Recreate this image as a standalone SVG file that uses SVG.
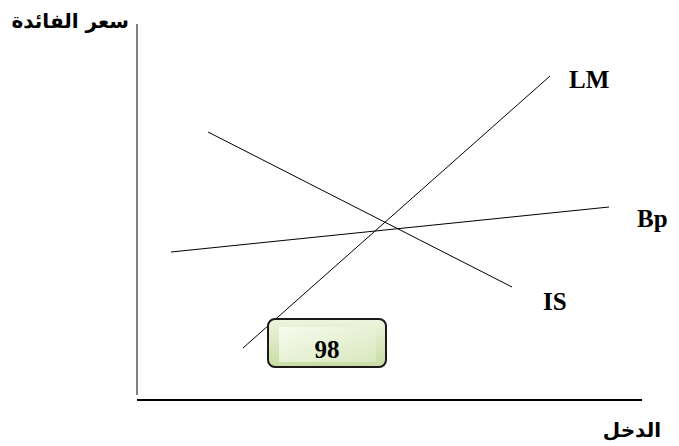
<svg xmlns="http://www.w3.org/2000/svg" width="679" height="446" viewBox="0 0 679 446">
<style>
.ln{stroke:#000;stroke-width:1;fill:none}
.lbl{font-family:"Liberation Serif",serif;font-weight:bold;font-size:25px;fill:#000}
.ar{font-family:"DejaVu Sans","Noto Sans",sans-serif;font-weight:bold;font-size:20px;fill:#000}
</style>
<defs>
<linearGradient id="g1" x1="0" y1="0" x2="0" y2="1">
<stop offset="0" stop-color="#eef5df"/>
<stop offset="1" stop-color="#c8dca3"/>
</linearGradient>
<linearGradient id="g2" x1="0" y1="0" x2="1" y2="1">
<stop offset="0" stop-color="#f7fbef"/>
<stop offset="1" stop-color="#d9e8bd"/>
</linearGradient>
</defs>
<g id="axes">
<line class="ln" x1="137" y1="24" x2="137" y2="395"/>
<line x1="137" y1="400" x2="642" y2="400" stroke="#000" stroke-width="2"/>
</g>
<g id="connectors">
<line id="LM-line" class="ln" x1="243" y1="348" x2="550" y2="76"/>
<line id="IS-line" class="ln" x1="208" y1="132" x2="512" y2="287"/>
<line id="Bp-line" class="ln" x1="171" y1="252" x2="609" y2="207"/>
</g>
<g id="label-interest"><text class="ar" x="129" y="28" text-anchor="end" font-size="21">سعر الفائدة</text></g>
<g id="label-LM"><text class="lbl" x="569" y="88">LM</text></g>
<g id="label-Bp"><text class="lbl" x="637" y="227">Bp</text></g>
<g id="label-IS"><text class="lbl" x="543" y="310">IS</text></g>
<g id="label-income"><text class="ar" x="661" y="437" text-anchor="end">الدخل</text></g>
<g id="page-box">
<rect x="268" y="319" width="118" height="48" rx="7" fill="url(#g1)" stroke="#1a1a1a" stroke-width="2"/>
<rect x="279" y="327" width="97" height="35" fill="url(#g2)"/>
<text x="327" y="358" text-anchor="middle" font-family="Liberation Serif,serif" font-weight="bold" font-size="25" fill="#000">98</text>
</g>
</svg>
